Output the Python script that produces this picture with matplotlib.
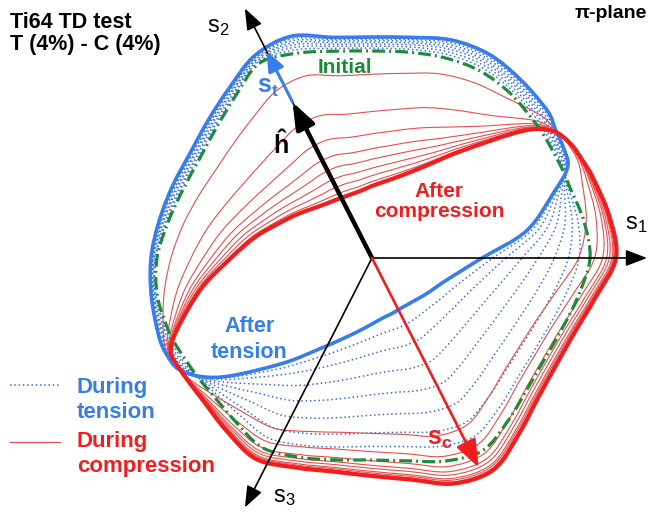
import numpy as np
import matplotlib
matplotlib.use('Agg')
import matplotlib.pyplot as plt
from matplotlib.path import Path
from matplotlib.patches import PathPatch

plt.rcParams['font.family'] = ['Liberation Sans', 'DejaVu Sans']
plt.rcParams['mathtext.fontset'] = 'custom'
plt.rcParams['mathtext.rm'] = 'Liberation Sans'
plt.rcParams['mathtext.bf'] = 'Liberation Sans:bold'
plt.rcParams['mathtext.it'] = 'Liberation Sans:italic'

# pi-plane angles (deg, from s1) and radii of the yield surfaces
ANG = [0, 10, 20, 25, 30, 35, 40, 50, 60, 70, 80, 90, 100, 110, 120, 130, 140, 150,
       160, 170, 180, 190, 200, 205, 210, 215, 220, 230, 240, 250, 260, 270, 280,
       290, 300, 310, 320, 330, 340, 350]
R_INIT = [218, 215, 210, 210, 210, 211, 212, 215, 216, 213, 209, 207, 210, 218, 225,
          212, 203, 199, 201, 207, 215, 218, 216, 214, 212, 211, 210, 213, 219, 212,
          205, 202, 206, 216, 222, 212, 203, 200, 203, 210]
R_TENS = [110, 157, 194, 216, 221, 224, 229, 232, 235, 232, 224, 221, 224, 236, 234,
          222, 214, 210, 212, 216, 221, 224, 227, 227, 223, 207, 183, 137, 105, 86,
          74, 66, 61, 59, 58, 59, 62, 67, 74, 87]
R_COMP = [244, 241, 235, 232, 229, 221, 198, 140, 106, 88, 78, 72, 68, 67, 68, 71,
          77, 87, 100, 119, 141, 173, 207, 222, 222, 221, 221, 226, 232, 223, 217,
          218, 225, 240, 244, 229, 217, 213, 216, 227]

# fraction of the way travelled by each intermediate surface
TENS_GROW = [0.2, 0.35, 0.5, 0.62, 0.74, 0.85, 0.94]
TENS_SHRINK = [0.1, 0.2, 0.33, 0.48, 0.63, 0.78, 0.9]
COMP_SHRINK = [0.25, 0.5, 0.65, 0.75, 0.82, 0.88, 0.93, 0.97]
COMP_GROW = [0.72, 0.84, 0.9, 0.93, 0.95, 0.97, 0.98, 0.99]

# stress axes
AXIS_LBL = [r'$\mathregular{s_1}$', r'$\mathregular{s_2}$', r'$\mathregular{s_3}$']
AXIS_ANG = [0, 117, 243]
AXIS_LEN = [275, 280, 280]
H_LEN = 175
ST_LEN = 232
SC_LEN = 235

BLUE = '#377deb'
RED = '#f01e1e'
GREEN = '#1e8a3c'


def closed_path(r):
    t = np.radians(ANG)
    P = np.column_stack([np.asarray(r) * np.cos(t), np.asarray(r) * np.sin(t)])
    Pm = np.roll(P, 1, axis=0)
    Pp = np.roll(P, -1, axis=0)
    Ppp = np.roll(P, -2, axis=0)
    c1 = P + (Pp - Pm) / 6.0
    c2 = Pp - (Ppp - P) / 6.0
    verts = [P[0]]
    codes = [Path.MOVETO]
    for i in range(len(P)):
        verts += [c1[i], c2[i], Pp[i]]
        codes += [Path.CURVE4] * 3
    return Path(verts, codes)


def blend(r0, r1, f_grow, f_shrink):
    r0 = np.asarray(r0, float)
    r1 = np.asarray(r1, float)
    w = np.where(r1 > r0, f_grow, f_shrink)
    return r0 + w * (r1 - r0)


def tip(ang, length):
    a = np.radians(ang)
    return (length * np.cos(a), length * np.sin(a))


fig = plt.figure(figsize=(6.51, 5.16), dpi=100)
ax = fig.add_axes([0, 0, 1, 1])
ax.set_xlim(-372, 279)
ax.set_ylim(-258, 258)
ax.axis('off')

# during tension
for fg, fs in zip(TENS_GROW, TENS_SHRINK):
    ax.add_patch(PathPatch(closed_path(blend(R_INIT, R_TENS, fg, fs)), fill=False,
                           ec='#3b6fd9', lw=1.1, ls=(0, (1, 1.8)), zorder=1))
# during compression
for fg, fs in zip(COMP_GROW, COMP_SHRINK):
    ax.add_patch(PathPatch(closed_path(blend(R_TENS, R_COMP, fg, fs)), fill=False,
                           ec='#e2504e', lw=0.8, zorder=2))

ax.add_patch(PathPatch(closed_path(R_INIT), fill=False, ec=GREEN, lw=2.3,
                       ls=(0, (4, 1.3, 0.6, 1.3)), zorder=3))
ax.add_patch(PathPatch(closed_path(R_TENS), fill=False, ec=BLUE, lw=2.6, zorder=4))
ax.add_patch(PathPatch(closed_path(R_COMP), fill=False, ec=RED, lw=3.0, zorder=5))

# axes
for lbl, a, L in zip(AXIS_LBL, AXIS_ANG, AXIS_LEN):
    ax.annotate('', xy=tip(a, L), xytext=(0, 0), zorder=6,
                arrowprops=dict(arrowstyle='-|>,head_length=13,head_width=5',
                                mutation_scale=1, lw=1.2, color='black',
                                shrinkA=0, shrinkB=0))
ax.text(253, 29, AXIS_LBL[0], fontsize=17, va='baseline')
ax.text(-165, 226, AXIS_LBL[1], fontsize=17, va='baseline')
ax.text(-99, -244, AXIS_LBL[2], fontsize=17, va='baseline')

# loading direction arrows
ax.annotate('', xy=tip(AXIS_ANG[1], H_LEN), xytext=(0, 0), zorder=7,
            arrowprops=dict(arrowstyle='-|>,head_length=16,head_width=6',
                            mutation_scale=1, lw=3.2, color='black',
                            shrinkA=0, shrinkB=0))
ax.annotate('', xy=tip(AXIS_ANG[1], ST_LEN), xytext=tip(AXIS_ANG[1], H_LEN), zorder=7,
            arrowprops=dict(arrowstyle='-|>,head_length=12,head_width=5',
                            mutation_scale=1, lw=2.2, color=BLUE,
                            shrinkA=0, shrinkB=0))
ax.annotate('', xy=tip(AXIS_ANG[1] + 180, SC_LEN), xytext=(0, 0), zorder=7,
            arrowprops=dict(arrowstyle='-|>,head_length=17,head_width=6.5',
                            mutation_scale=1, lw=1.9, color=RED,
                            shrinkA=0, shrinkB=0))

ax.text(-115, 165, r'$\mathbf{s_t}$', fontsize=18, color=BLUE, va='baseline')
ax.text(-99, 105, '\u0125', fontsize=18, fontweight='bold', color='black',
        va='baseline')
ax.text(55, -187, r'$\mathbf{s_c}$', fontsize=18, color=RED, va='baseline')

# labels
ax.text(-27, 185, 'Initial', fontsize=15, fontweight='bold', color=GREEN,
        ha='center', va='baseline')
ax.text(67, 61, 'After', fontsize=15, fontweight='bold', color=RED,
        ha='center', va='baseline')
ax.text(67, 41, 'compression', fontsize=15, fontweight='bold', color=RED,
        ha='center', va='baseline')
ax.text(-122, -74, 'After', fontsize=15.5, fontweight='bold', color=BLUE,
        ha='center', va='baseline')
ax.text(-123, -100, 'tension', fontsize=15.5, fontweight='bold', color=BLUE,
        ha='center', va='baseline')

ax.text(-362, 230, 'Ti64 TD test', fontsize=15.5, fontweight='bold', va='baseline')
ax.text(-362, 208, 'T (4%) - C (4%)', fontsize=15.5, fontweight='bold', va='baseline')
ax.text(275, 240, '\u03c0-plane', fontsize=14, fontweight='bold', ha='right',
        va='baseline')

# legend
ax.plot([-362, -312], [-127, -127], color='#3b6fd9', lw=1.1, ls=(0, (1, 1.8)))
ax.plot([-362, -312], [-184, -184], color='#e2504e', lw=0.9)
ax.text(-295, -135, 'During', fontsize=16, fontweight='bold', color=BLUE, va='baseline')
ax.text(-295, -160, 'tension', fontsize=16, fontweight='bold', color=BLUE, va='baseline')
ax.text(-295, -189, 'During', fontsize=16, fontweight='bold', color=RED, va='baseline')
ax.text(-295, -214, 'compression', fontsize=16, fontweight='bold', color=RED,
        va='baseline')

fig.savefig('out.png', dpi=100)
